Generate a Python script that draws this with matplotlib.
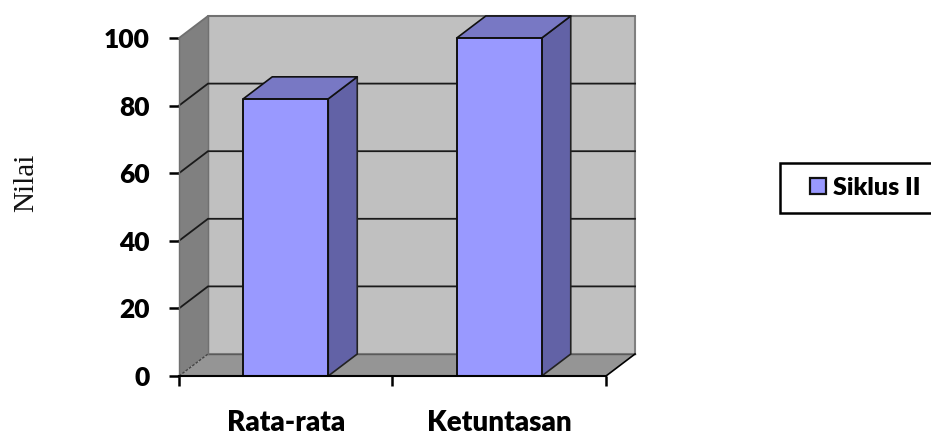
import matplotlib
matplotlib.use("Agg")
import matplotlib.pyplot as plt
from matplotlib.patches import Polygon, Rectangle

categories = ["Rata-rata", "Ketuntasan"]
series_name = "Siklus II"
values = [82, 100]
y_ticks = [0, 20, 40, 60, 80, 100]

W, H = 931, 436
FRONT = "#9999FF"
TOP = "#7878C4"
SIDE = "#6262A6"
WALL = "#C0C0C0"
SIDE_WALL = "#808080"
FLOOR = "#959595"
EDGE = "#808080"

# Oblique depth offset of the pseudo-3D box, in data units
DX, DY = 29 / 213.5, 22 / 3.38
BAR_W = 85 / 213.5

fig = plt.figure(figsize=(W / 100, H / 100), dpi=100, facecolor="white")
ax = fig.add_axes([179 / W, 1 - 376 / H, (606 - 179) / W, (376 - 38) / H])
ax.set_xlim(0, 2)
ax.set_ylim(0, 100)
ax.patch.set_visible(False)
for s in ax.spines.values():
    s.set_visible(False)


def poly(pts, fc, ec="none", lw=0, z=1):
    ax.add_patch(Polygon(pts, closed=True, facecolor=fc, edgecolor=ec,
                         linewidth=lw, zorder=z, clip_on=False, joinstyle="round"))


# Box walls and floor
poly([(0, 0), (DX, DY), (DX, 100 + DY), (0, 100)], SIDE_WALL, z=1)
poly([(DX, DY), (2 + DX, DY), (2 + DX, 100 + DY), (DX, 100 + DY)], WALL, EDGE, 1.5, z=1)
poly([(0, 0), (2, 0), (2 + DX, DY), (DX, DY)], FLOOR, z=1.5)
ax.plot([DX, 2 + DX], [DY, DY], color="#5a5a5a", lw=1, zorder=1.6, clip_on=False)
ax.plot([2, 2 + DX], [0, DY], color="black", lw=1.2, zorder=1.6, clip_on=False)
ax.plot([0, DX], [0, DY], color="#444444", lw=1, ls=(0, (2, 1)), zorder=1.6, clip_on=False)
ax.plot([DX, DX], [DY, 100 + DY], color="#707070", lw=1, zorder=1.6, clip_on=False)

# Gridlines run along the side wall and across the back wall
for t in y_ticks[1:]:
    colour = "#707070" if t == 100 else "#1a1a1a"
    ax.plot([0, DX, 2 + DX], [t, t + DY, t + DY], color=colour, lw=1.3,
            zorder=2, clip_on=False, solid_joinstyle="miter")
ax.plot([0, 0], [0, 100], color="#707070", lw=1, zorder=2, clip_on=False)

# Bars: side, top, then front face
for i, v in enumerate(values):
    x0, x1 = i + 0.5 - BAR_W / 2, i + 0.5 + BAR_W / 2
    poly([(x1, 0), (x1 + DX, DY), (x1 + DX, v + DY), (x1, v)], SIDE, "#222222", 1.2, z=3)
    poly([(x0, v), (x1, v), (x1 + DX, v + DY), (x0 + DX, v + DY)], TOP, "#111111", 1.2, z=3)
    poly([(x0, 0), (x1, 0), (x1, v), (x0, v)], FRONT, "#111111", 1.4, z=4)

ax.plot([0, 2], [0, 0], color="black", lw=1.5, zorder=5, clip_on=False)

FONT = "Lato"
WEIGHT = "heavy"
ax.set_yticks(y_ticks)
ax.set_yticklabels([str(t) for t in y_ticks], fontfamily=FONT, fontweight=WEIGHT, fontsize=19)
ax.tick_params(axis="y", length=7, width=1.8, pad=14, color="black")
ax.set_xticks([0, 1, 2])
ax.set_xticklabels([])
ax.tick_params(axis="x", which="major", length=7, width=1.8, color="black")
ax.set_xticks([0.5, 1.5], minor=True)
ax.set_xticklabels(categories, minor=True, fontfamily=FONT, fontweight=WEIGHT, fontsize=20)
ax.tick_params(axis="x", which="minor", length=0, pad=24.5)

fig.text(26 / W, 1 - 183 / H, "Nilai", rotation=90, ha="center", va="center",
         fontfamily="Liberation Serif", fontsize=21, color="#111111")

# Legend frame runs off the right-hand edge of the figure
fig.add_artist(Rectangle((780 / W, 1 - 213 / H), 160 / W, 50 / H, transform=fig.transFigure,
                         facecolor="white", edgecolor="black", linewidth=1.8, zorder=6))
handle = Rectangle((0, 0), 1, 1, facecolor=FRONT, edgecolor="#111111", linewidth=1.6)
leg = fig.legend([handle], [series_name], loc="center left",
                 bbox_to_anchor=(810 / W, 1 - 188 / H), frameon=False, borderpad=0,
                 borderaxespad=0, handlelength=0.62, handleheight=0.62, handletextpad=0.3,
                 prop={"family": FONT, "weight": WEIGHT, "size": 18})
leg.set_zorder(7)

fig.savefig("out.png", dpi=100)
